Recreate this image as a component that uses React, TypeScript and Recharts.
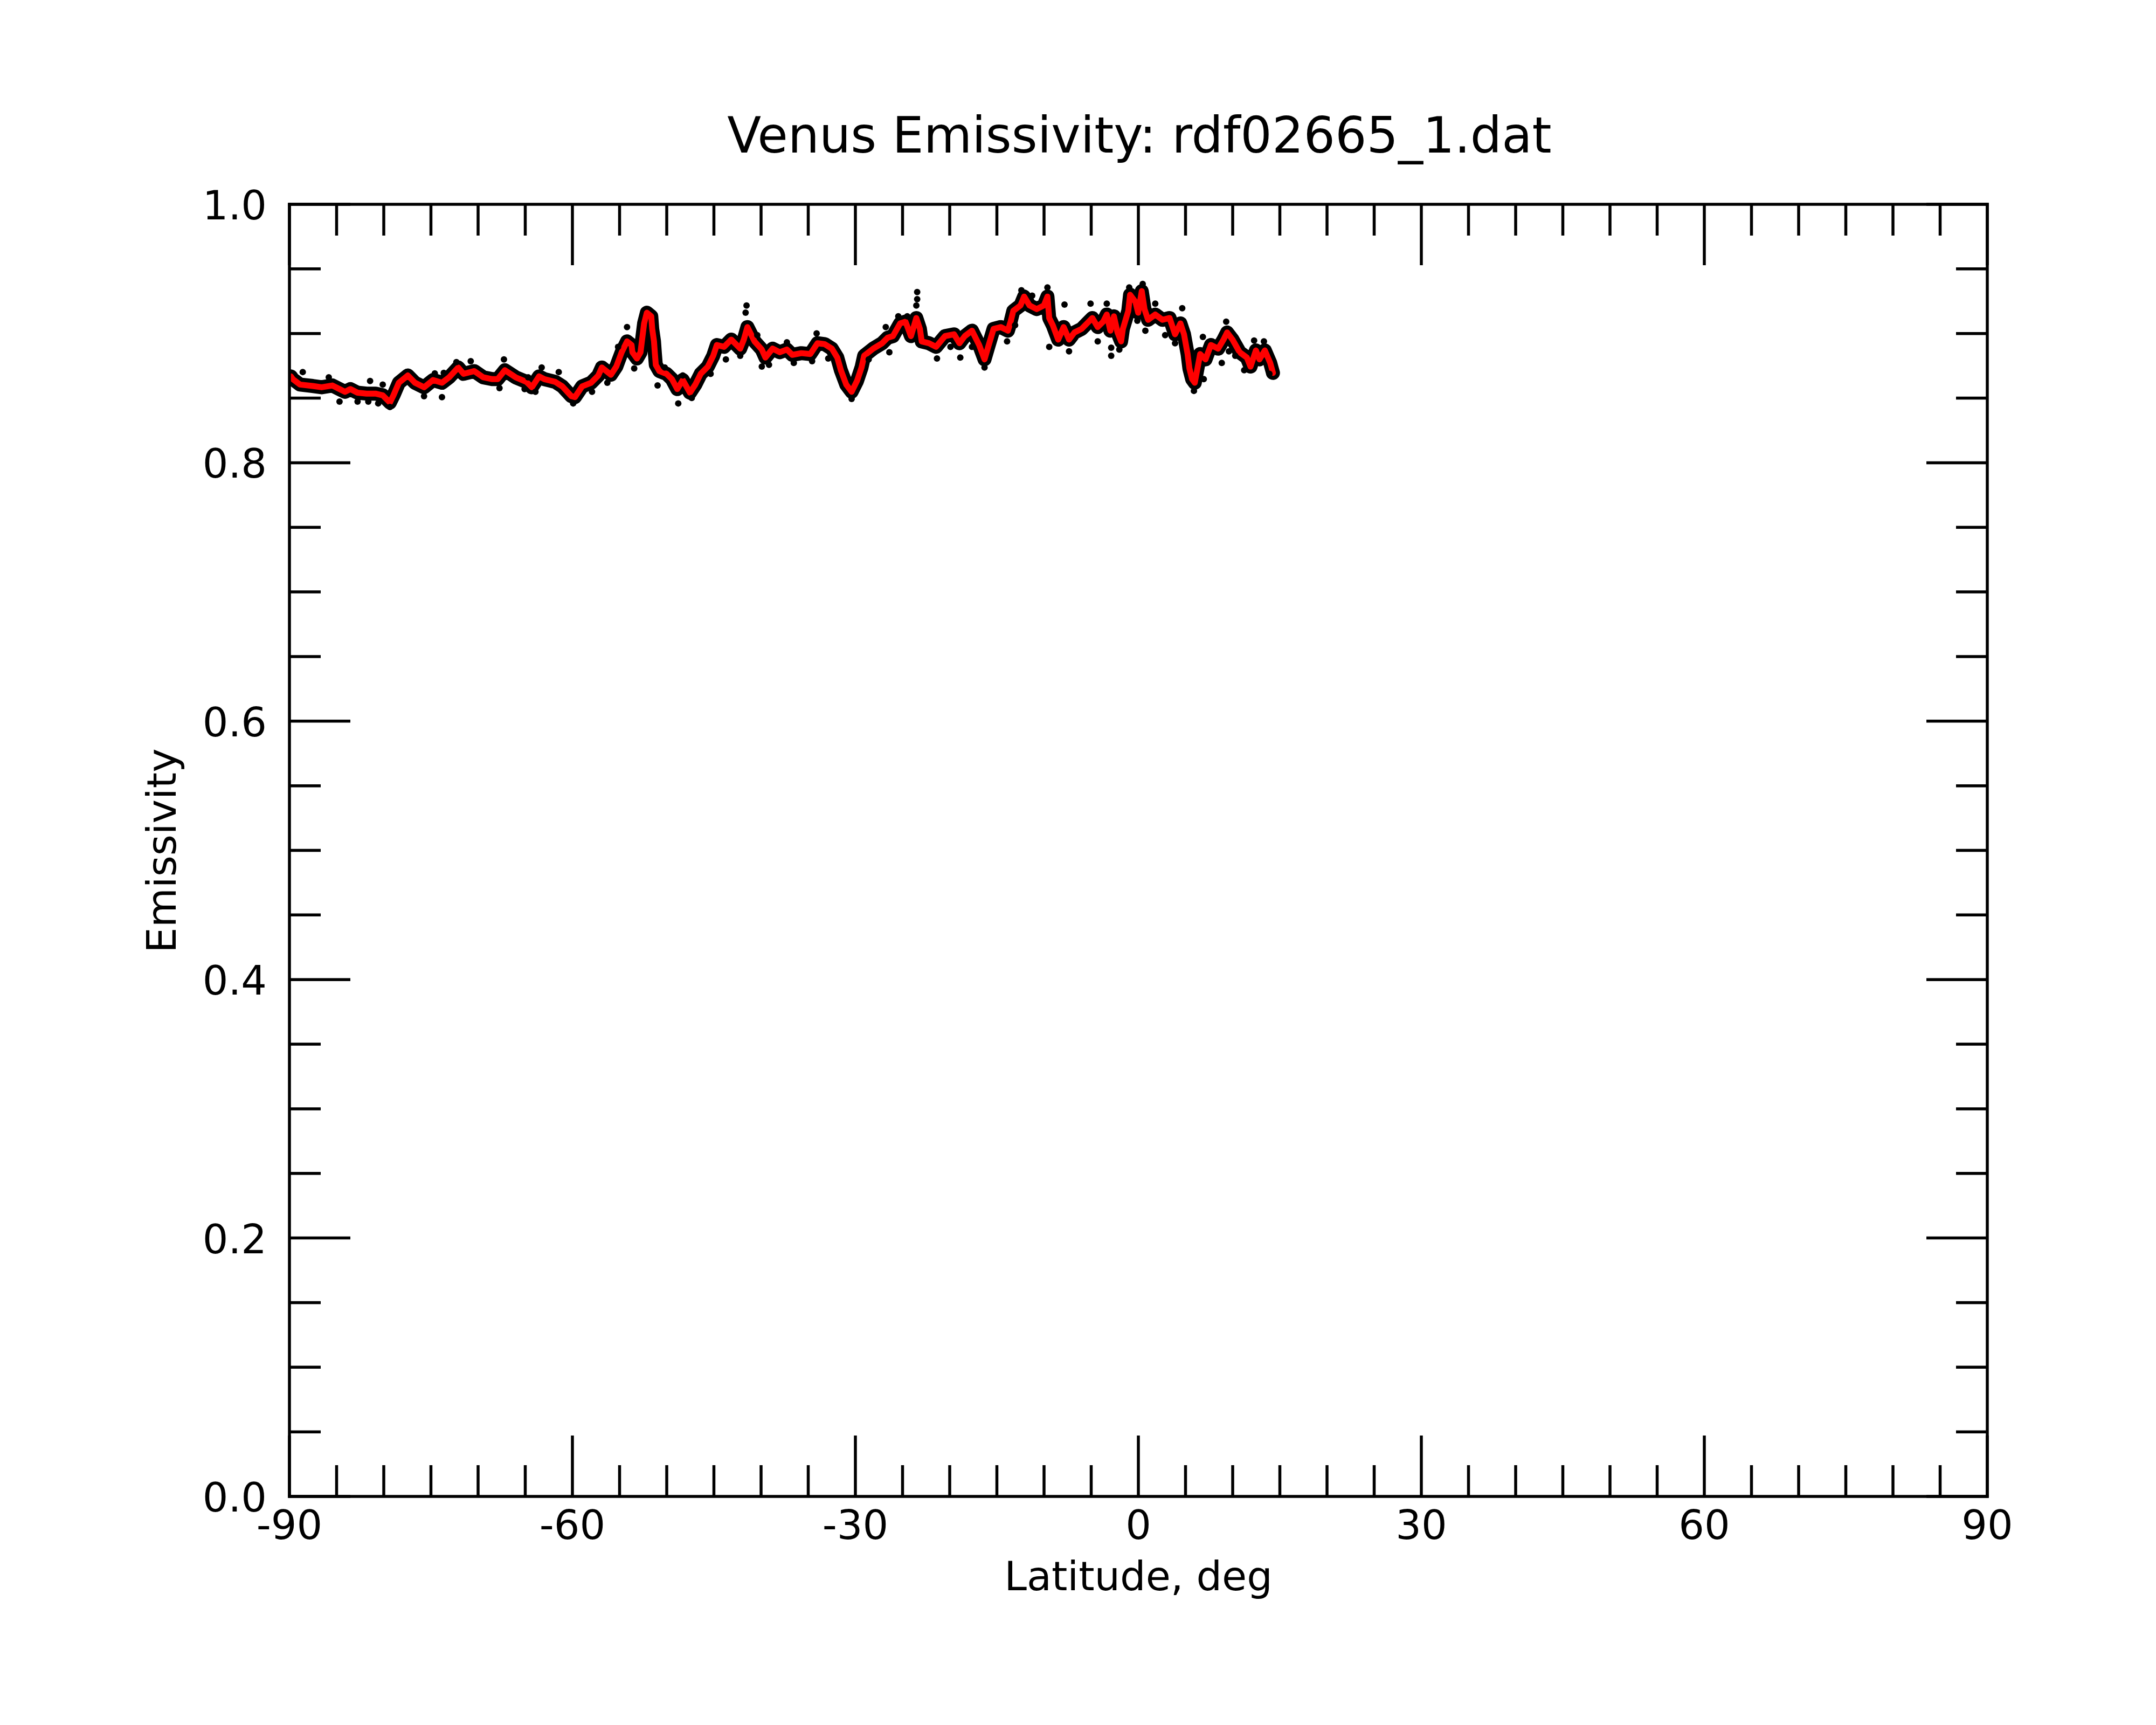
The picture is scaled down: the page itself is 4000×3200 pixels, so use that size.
import React from "react";
import { ComposedChart, Line, Scatter, XAxis, YAxis, Customized } from "recharts";

// Latitude (deg) of the smoothed (red) emissivity curve
const LAT = [
  -89.85, -89.64, -88.88, -87.54, -86.59, -85.45, -84.69, -84.11, -83.54, -82.78,
  -81.83, -80.88, -80.11, -79.35, -78.97, -78.40, -77.45, -76.69, -75.73, -74.78,
  -73.83, -73.07, -72.11, -71.54, -70.40, -69.45, -68.50, -67.92, -67.16, -66.02,
  -64.88, -64.30, -63.54, -62.97, -61.83, -61.07, -60.11, -59.73, -58.97, -58.02,
  -57.26, -56.88, -55.92, -55.35, -54.78, -54.21, -53.73, -53.64, -53.16, -52.78,
  -52.59, -52.40, -52.11, -51.64, -51.54, -51.35, -51.26, -51.16, -50.78, -50.02,
  -49.45, -48.88, -48.30, -47.54, -46.97, -46.40, -45.64, -45.07, -44.69, -43.92,
  -43.16, -42.21, -41.83, -41.45, -41.07, -40.69, -39.92, -39.54, -38.78, -38.02,
  -37.26, -36.69, -35.73, -34.78, -34.02, -33.26, -32.50, -31.92, -31.54, -30.97,
  -30.40, -29.83, -29.35, -29.07, -28.11, -27.16, -26.59, -26.02, -25.26, -24.69,
  -24.11, -23.54, -23.16, -22.97, -22.21, -21.45, -20.50, -19.54, -18.97, -18.40,
  -17.64, -16.88, -16.31, -15.92, -15.35, -14.59, -13.83, -13.54, -13.26, -12.50,
  -12.11, -11.54, -10.78, -10.02, -9.64, -9.45, -9.07, -8.50, -7.92, -7.35,
  -6.78, -6.02, -5.45, -4.88, -4.31, -3.73, -3.35, -2.97, -2.59, -2.21,
  -1.83, -1.64, -1.07, -0.88, -0.31, -0.02, 0.36, 0.65, 1.03, 1.79,
  2.55, 3.31, 3.89, 4.46, 4.84, 5.22, 5.41, 5.70, 5.98, 6.55,
  7.12, 7.69, 8.46, 9.03, 9.41, 9.98, 10.74, 11.50, 11.89, 12.46,
  12.84, 13.41, 13.98, 14.27,
];

// Smoothed emissivity (red)
const EMIS_SMOOTH = [
  0.8668, 0.8647, 0.8605, 0.8594, 0.8584, 0.8598, 0.8570, 0.8549, 0.8570, 0.8542,
  0.8535, 0.8535, 0.8522, 0.8466, 0.8522, 0.8619, 0.8675, 0.8619, 0.8584, 0.8640,
  0.8619, 0.8661, 0.8737, 0.8688, 0.8709, 0.8661, 0.8647, 0.8647, 0.8716, 0.8661,
  0.8626, 0.8584, 0.8668, 0.8647, 0.8626, 0.8591, 0.8515, 0.8508, 0.8591, 0.8619,
  0.8675, 0.8737, 0.8681, 0.8744, 0.8855, 0.8939, 0.8911, 0.8855, 0.8807, 0.8855,
  0.8967, 0.9078, 0.9161, 0.9133, 0.9036, 0.8939, 0.8848, 0.8758, 0.8709, 0.8688,
  0.8647, 0.8570, 0.8640, 0.8542, 0.8605, 0.8688, 0.8744, 0.8828, 0.8911, 0.8897,
  0.8953, 0.8883, 0.8953, 0.9050, 0.8995, 0.8939, 0.8876, 0.8814, 0.8883, 0.8855,
  0.8876, 0.8835, 0.8848, 0.8841, 0.8925, 0.8918, 0.8883, 0.8814, 0.8716, 0.8605,
  0.8549, 0.8633, 0.8737, 0.8828, 0.8883, 0.8925, 0.8967, 0.8980, 0.9078, 0.9092,
  0.8980, 0.9120, 0.9036, 0.8939, 0.8925, 0.8897, 0.8980, 0.8994, 0.8925, 0.8980,
  0.9022, 0.8911, 0.8800, 0.8897, 0.9036, 0.9050, 0.9022, 0.9092, 0.9175, 0.9217,
  0.9286, 0.9217, 0.9189, 0.9217, 0.9286, 0.9120, 0.9064, 0.8953, 0.9050, 0.8953,
  0.9008, 0.9036, 0.9078, 0.9120, 0.9050, 0.9092, 0.9147, 0.9022, 0.9133, 0.9008,
  0.8939, 0.9036, 0.9175, 0.9300, 0.9245, 0.9161, 0.9328, 0.9189, 0.9106, 0.9147,
  0.9106, 0.9120, 0.8994, 0.9078, 0.8994, 0.8841, 0.8730, 0.8647, 0.8619, 0.8841,
  0.8800, 0.8911, 0.8883, 0.8953, 0.9008, 0.8953, 0.8855, 0.8814, 0.8744, 0.8869,
  0.8800, 0.8869, 0.8772, 0.8695,
];

// Scattered raw measurements (black) standing out from the band
const RAW_LAT = [
  -88.59, -85.83, -84.69, -82.78, -81.64, -81.45, -80.59, -80.11, -79.35, -75.73,
  -74.59, -73.83, -73.64, -72.30, -70.78, -67.73, -67.26, -65.07, -64.69, -63.92,
  -63.26, -61.45, -59.92, -57.92, -56.30, -55.16, -54.21, -53.45, -50.97, -50.21,
  -48.78, -48.30, -47.35, -45.35, -43.73, -42.21, -41.64, -41.54, -40.40, -39.92,
  -39.16, -37.26, -36.53, -34.59, -34.11, -32.88, -30.40, -28.59, -26.78, -26.40,
  -25.45, -24.50, -23.54, -23.45, -23.45, -21.35, -19.92, -18.88, -17.64, -16.31,
  -13.92, -13.07, -12.40, -11.26, -9.64, -9.45, -7.83, -7.35, -5.07, -4.31,
  -3.35, -2.88, -2.88, -2.02, -0.97, -0.11, 0.46, 0.74, 1.79, 2.84,
  3.89, 4.65, 5.89, 6.84, 6.93, 8.84, 9.31, 9.60, 10.27, 11.22,
  12.27, 13.31, 13.89,
];
const RAW_EMIS = [
  0.8702, 0.8661, 0.8473, 0.8473, 0.8473, 0.8633, 0.8459, 0.8605, 0.8431, 0.8515,
  0.8691, 0.8508, 0.8695, 0.8779, 0.8786, 0.8577, 0.8800, 0.8570, 0.8661, 0.8549,
  0.8737, 0.8702, 0.8459, 0.8549, 0.8619, 0.8897, 0.9050, 0.8730, 0.8598, 0.8737,
  0.8459, 0.8675, 0.8501, 0.8688, 0.8800, 0.8828, 0.9161, 0.9217, 0.8987, 0.8744,
  0.8758, 0.8932, 0.8772, 0.8786, 0.9001, 0.8807, 0.8494, 0.8800, 0.9050, 0.8855,
  0.9133, 0.9133, 0.9217, 0.9266, 0.9321, 0.8807, 0.8897, 0.8814, 0.8897, 0.8737,
  0.8939, 0.9064, 0.9335, 0.9293, 0.9356, 0.8897, 0.9224, 0.8862, 0.9231, 0.8939,
  0.9231, 0.8828, 0.8890, 0.8876, 0.9356, 0.9099, 0.9384, 0.9022, 0.9231, 0.8987,
  0.8925, 0.9196, 0.8556, 0.8974, 0.8647, 0.8772, 0.9092, 0.8862, 0.8828, 0.8716,
  0.8946, 0.8939, 0.8688,
];

const X_TICKS = [
  -90, -85, -80, -75, -70, -65, -60, -55, -50, -45, -40, -35, -30, -25, -20, -15, -10, -5,
  0, 5, 10, 15, 20, 25, 30, 35, 40, 45, 50, 55, 60, 65, 70, 75, 80, 85, 90,
];
const X_LABELS = [-90, -60, -30, 0, 30, 60, 90];
const Y_TICKS = [
  0, 0.05, 0.1, 0.15, 0.2, 0.25, 0.3, 0.35, 0.4, 0.45, 0.5, 0.55, 0.6, 0.65, 0.7, 0.75, 0.8,
  0.85, 0.9, 0.95, 1.0,
];
const Y_LABELS = [0, 0.2, 0.4, 0.6, 0.8, 1.0];

const smoothData = LAT.map((lat, i) => ({ lat, v: EMIS_SMOOTH[i] }));
const rawData = RAW_LAT.map((lat, i) => ({ lat, v: RAW_EMIS[i] }));

const FONT = "DejaVu Sans";
const LW = 5.5;
const MAJOR = 113;
const MINOR = 58;

const isLabelX = (v: number) => X_LABELS.some((t) => Math.abs(t - v) < 1e-6);
const isLabelY = (v: number) => Y_LABELS.some((t) => Math.abs(t - v) < 1e-6);

const BottomTick = (p: any) => {
  const v = p.payload.value;
  const major = isLabelX(v);
  return (
    <g>
      <line x1={p.x} x2={p.x} y1={p.y} y2={p.y - (major ? MAJOR : MINOR)} stroke="#000" strokeWidth={LW} />
      {major && (
        <text x={p.x} y={p.y + 79} textAnchor="middle" fontSize={75} fontFamily={FONT} fill="#000">
          {String(v)}
        </text>
      )}
    </g>
  );
};

const TopTick = (p: any) => {
  const v = p.payload.value;
  const major = isLabelX(v);
  return (
    <line x1={p.x} x2={p.x} y1={p.y} y2={p.y + (major ? MAJOR : MINOR)} stroke="#000" strokeWidth={LW} />
  );
};

const LeftTick = (p: any) => {
  const v = p.payload.value;
  const major = isLabelY(v);
  return (
    <g>
      <line x1={p.x} x2={p.x + (major ? MAJOR : MINOR)} y1={p.y} y2={p.y} stroke="#000" strokeWidth={LW} />
      {major && (
        <text x={p.x - 42} y={p.y + 28} textAnchor="end" fontSize={75} fontFamily={FONT} fill="#000">
          {v.toFixed(1)}
        </text>
      )}
    </g>
  );
};

const RightTick = (p: any) => {
  const v = p.payload.value;
  const major = isLabelY(v);
  return (
    <line x1={p.x} x2={p.x - (major ? MAJOR : MINOR)} y1={p.y} y2={p.y} stroke="#000" strokeWidth={LW} />
  );
};

const Titles = () => (
  <g fontFamily={FONT} fill="#000">
    <text x={2114} y={283} textAnchor="middle" fontSize={92}>
      Venus Emissivity: rdf02665_1.dat
    </text>
    <text x={2112} y={2950} textAnchor="middle" fontSize={75}>
      Latitude, deg
    </text>
    <text x={326} y={1578} textAnchor="middle" fontSize={75} transform="rotate(-90 326 1578)">
      Emissivity
    </text>
  </g>
);

const RawDot = (p: any) => <circle cx={p.cx} cy={p.cy} r={6} fill="#000" />;

const axisLine = { stroke: "#000", strokeWidth: LW, strokeLinecap: "square" as const };

export default function App() {
  return (
    <div style={{ position: "absolute", left: 0, top: 0, width: 4000, height: 3200, background: "#fff" }}>
      <ComposedChart
        width={4000}
        height={3200}
        margin={{ top: 378, right: 312, bottom: 423, left: 536 }}
      >
        <XAxis
          xAxisId="b"
          dataKey="lat"
          type="number"
          domain={[-90, 90]}
          ticks={X_TICKS}
          interval={0}
          height={1}
          tickSize={0}
          tickMargin={0}
          tickLine={false}
          axisLine={axisLine}
          tick={<BottomTick />}
          allowDataOverflow
        />
        <XAxis
          xAxisId="t"
          orientation="top"
          dataKey="lat"
          type="number"
          domain={[-90, 90]}
          ticks={X_TICKS}
          interval={0}
          height={1}
          tickSize={0}
          tickMargin={0}
          tickLine={false}
          axisLine={axisLine}
          tick={<TopTick />}
          allowDataOverflow
        />
        <YAxis
          yAxisId="l"
          type="number"
          domain={[0, 1]}
          ticks={Y_TICKS}
          interval={0}
          width={1}
          tickSize={0}
          tickMargin={0}
          tickLine={false}
          axisLine={axisLine}
          tick={<LeftTick />}
          allowDataOverflow
        />
        <YAxis
          yAxisId="r"
          orientation="right"
          type="number"
          domain={[0, 1]}
          ticks={Y_TICKS}
          interval={0}
          width={1}
          tickSize={0}
          tickMargin={0}
          tickLine={false}
          axisLine={axisLine}
          tick={<RightTick />}
          allowDataOverflow
        />
        <Line
          xAxisId="b"
          yAxisId="l"
          data={smoothData}
          dataKey="v"
          type="linear"
          stroke="#000"
          strokeWidth={26}
          strokeLinejoin="round"
          strokeLinecap="round"
          dot={false}
          activeDot={false}
          isAnimationActive={false}
        />
        <Scatter
          xAxisId="b"
          yAxisId="l"
          data={rawData}
          dataKey="v"
          fill="#000"
          shape={<RawDot />}
          isAnimationActive={false}
        />
        <Line
          xAxisId="b"
          yAxisId="l"
          data={smoothData}
          dataKey="v"
          type="linear"
          stroke="#ff0000"
          strokeWidth={11}
          strokeLinejoin="round"
          strokeLinecap="round"
          dot={false}
          activeDot={false}
          isAnimationActive={false}
        />
        <Customized component={<Titles />} />
      </ComposedChart>
    </div>
  );
}
